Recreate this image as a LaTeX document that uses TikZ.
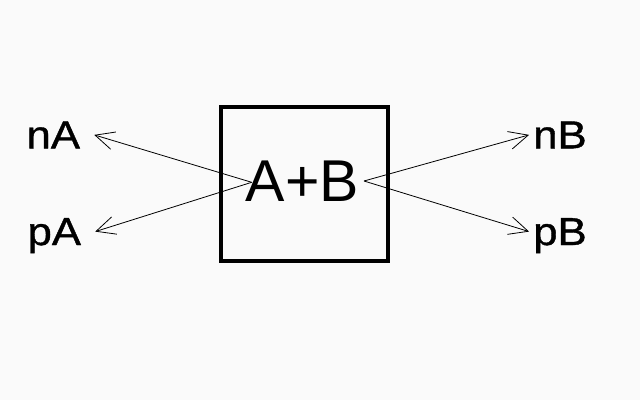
\documentclass[tikz,border=0pt]{standalone}
\usepackage{fontspec}
\setmainfont{Liberation Sans}
\newfontfamily\lblfont[FakeStretch=1.12,FakeBold=1]{Liberation Sans}
\usetikzlibrary{arrows.meta,positioning}
\definecolor{bgcol}{HTML}{FAFAFA}

\begin{document}
\begin{tikzpicture}[x=1pt,y=-1pt,>={Straight Barb[length=19pt,width=18pt]},
  every node/.style={inner sep=0pt},
  lbl/.style={font=\lblfont\fontsize{39}{40}\selectfont,anchor=base,text depth=0pt},
  lblL/.style={lbl,inner xsep=14pt},
  lblR/.style={lbl,inner xsep=4pt}]
\useasboundingbox[fill=bgcol] (0,0) rectangle (640,400);
\node[draw,line width=4pt,minimum width=167pt,minimum height=154pt] (box) at (304.5,184) {};
\node[font=\fontsize{59}{60}\selectfont,anchor=base] (sum) at (302.5,201) {A+B};
\coordinate (sl) at (251.7,182.3);
\coordinate (sr) at (364,181);
\node[lblL] (nA) at (53.3,148.3) {nA};
\node[lblL] (pA) at (54.3,245) {pA};
\node[lblR] (nB) at (560,148.3) {nB};
\node[lblR] (pB) at (560,245) {pB};
\draw[->,line width=0.8pt] (sl) -- (nA.east);
\draw[->,line width=0.8pt] (sl) -- (pA.east);
\draw[->,line width=0.8pt] (sr) -- (nB.west);
\draw[->,line width=0.8pt] (sr) -- (pB.west);
\end{tikzpicture}
\end{document}
